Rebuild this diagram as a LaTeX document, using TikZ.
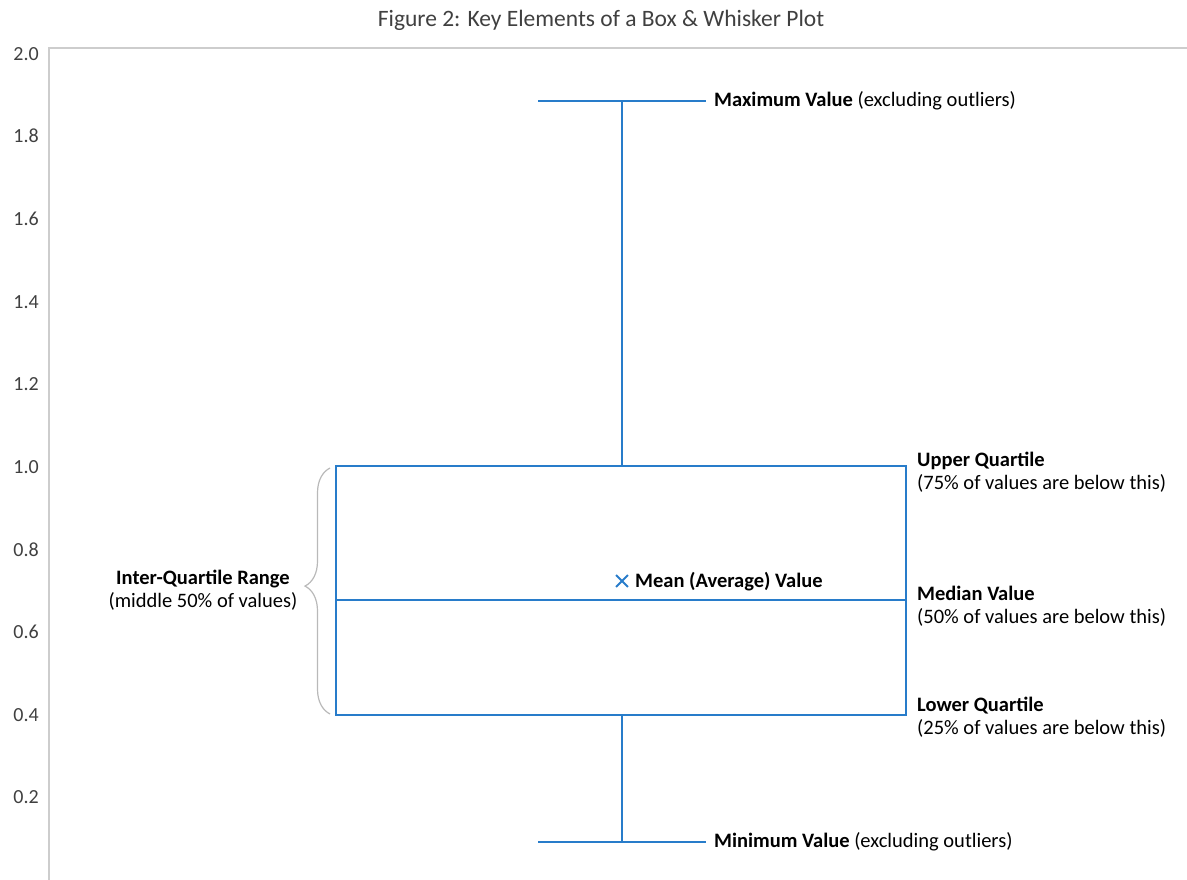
\documentclass[tikz,border=0pt]{standalone}
\usepackage{fontspec}
\setmainfont{Carlito}
\usetikzlibrary{decorations.pathreplacing,shapes.misc}
\definecolor{bwblue}{RGB}{40,124,202}
\definecolor{axisgray}{RGB}{205,205,205}
\definecolor{bracegray}{RGB}{185,185,185}
\definecolor{ticktext}{RGB}{64,64,64}
\tikzset{
  bw/.style={draw=bwblue, line width=2pt},
  txt/.style={font=\fontsize{20.5}{23}\selectfont, inner sep=0pt, text=black},
  ticklab/.style={font=\fontsize{20}{23}\selectfont, inner sep=0pt, anchor=east, text=ticktext},
  sidelab/.style={txt, anchor=west, align=left},
  meanmark/.style={cross out, draw=bwblue, line width=1.8pt, minimum size=10pt, inner sep=0pt}
}
\begin{document}
\begin{tikzpicture}[x=1pt,y=-1pt]
\useasboundingbox (0,0) rectangle (1187,880);
% title
\node[txt, text=ticktext, font=\fontsize{23.5}{26}\selectfont] (title) at (601,20) {Figure 2: Key Elements of a Box \& Whisker Plot};
% axes
\draw[axisgray, line width=2pt] (49,880) -- (49,48) -- (1187,48);
% tick labels
\foreach \v/\y in {2.0/54,1.8/136,1.6/219,1.4/302,1.2/384,1.0/467,0.8/550,0.6/632,0.4/715,0.2/797}
  \node[ticklab] at (39,\y) {\v};
% key coordinates
\coordinate (maxl) at (538,101);
\coordinate (maxr) at (706,101);
\coordinate (maxc) at (622,101);
\coordinate (minl) at (538,842);
\coordinate (minr) at (706,842);
\coordinate (minc) at (622,842);
\coordinate (boxtl) at (336,466);
\coordinate (boxbr) at (906,715);
\coordinate (boxtc) at (622,466);
\coordinate (boxbc) at (622,715);
\coordinate (medl) at (336,600);
\coordinate (medr) at (906,600);
% box and whiskers
\draw[bw] (boxtl) rectangle (boxbr);
\draw[bw] (medl) -- (medr);
\draw[bw] (boxtc) -- (maxc);
\draw[bw] (boxbc) -- (minc);
\draw[bw] (maxl) -- (maxr);
\draw[bw] (minl) -- (minr);
% mean marker
\node[meanmark] (mean) at (622,581) {};
% brace
\draw[bracegray, line width=1.2pt, decorate, decoration={brace, amplitude=25pt, aspect=0.52}] (330,714) -- (330,468);
% labels
\node[sidelab] (maxlab) at (714,101) {\textbf{Maximum Value} (excluding outliers)};
\node[sidelab] (minlab) at (714,842) {\textbf{Minimum Value} (excluding outliers)};
\node[sidelab] (meanlab) at (635,582) {\textbf{Mean (Average) Value}};
\node[sidelab] (uq) at (917,472) {\textbf{Upper Quartile}\\(75\% of values are below this)};
\node[sidelab] (med) at (917,606) {\textbf{Median Value}\\(50\% of values are below this)};
\node[sidelab] (lq) at (917,717) {\textbf{Lower Quartile}\\(25\% of values are below this)};
\node[txt, align=center] (iqr) at (203,590) {\textbf{Inter-Quartile Range}\\(middle 50\% of values)};
\end{tikzpicture}
\end{document}
